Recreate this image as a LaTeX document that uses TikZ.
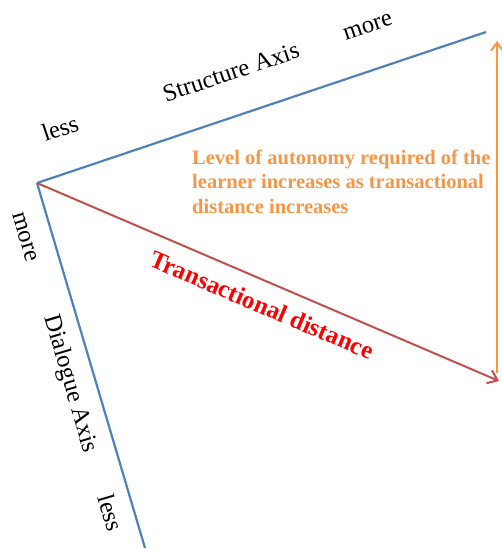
\documentclass[tikz,border=0pt]{standalone}
\usepackage{fontspec}
\setmainfont{Liberation Serif}
\usetikzlibrary{arrows.meta}
\definecolor{axisblue}{HTML}{4F81BD}
\definecolor{distred}{HTML}{C0504D}
\definecolor{autoorange}{HTML}{F79646}
\definecolor{labelred}{HTML}{FF0000}
\begin{document}
\begin{tikzpicture}[x=1pt,y=-1pt,
  axisline/.style={draw=axisblue, line width=2.2pt},
  distline/.style={draw=distred, line width=2pt, -{Straight Barb[length=9pt,width=14pt,line width=2pt]}},
  autoline/.style={draw=autoorange, line width=2pt, -{Straight Barb[length=8pt,width=12pt,line width=2pt]}},
  axislabel/.style={inner sep=0pt, font=\fontsize{24.5}{28}\selectfont},
  autolabel/.style={inner sep=0pt, text=autoorange, align=left, font=\fontsize{20.5}{24.5}\selectfont\bfseries},
  distlabel/.style={inner sep=0pt, text=labelred, font=\fontsize{25}{29}\selectfont\bfseries}
]
\useasboundingbox (0,0) rectangle (502,550);

% end points of the axes and arrows
\coordinate (O) at (37,183);
\coordinate (S) at (486,32);
\coordinate (D) at (145,548);
\coordinate (T) at (499,381);
\coordinate (Abot) at (497,373);
\coordinate (Atop) at (497,41);

% axes
\draw[axisline] (O) -- (S);
\draw[axisline] (O) -- (D);
% transactional distance and autonomy arrows
\draw[distline] (O) -- (T);
\draw[autoline] (Abot) -- (Atop);

% structure axis labels
\node[axislabel, rotate=18.6] (sless) at (60,128) {less};
\node[axislabel, rotate=18.6] (stitle) at (231,72) {Structure Axis};
\node[axislabel, rotate=18.6] (smore) at (368,27) {more};

% dialogue axis labels
\node[axislabel, rotate=-73.5] (dmore) at (25,237) {more};
\node[axislabel, rotate=-73.5] (dtitle) at (70,384) {Dialogue Axis};
\node[axislabel, rotate=-73.5] (dless) at (111,513) {less};

% arrow captions (base anchor sits on the last line of a multi-line node)
\node[distlabel, rotate=-23.1] (tdist) at (262,305) {Transactional distance};
\node[autolabel, anchor=base west] (auto) at (192,213)
  {Level of autonomy required of the\\learner increases as transactional\\distance increases};
\end{tikzpicture}
\end{document}
